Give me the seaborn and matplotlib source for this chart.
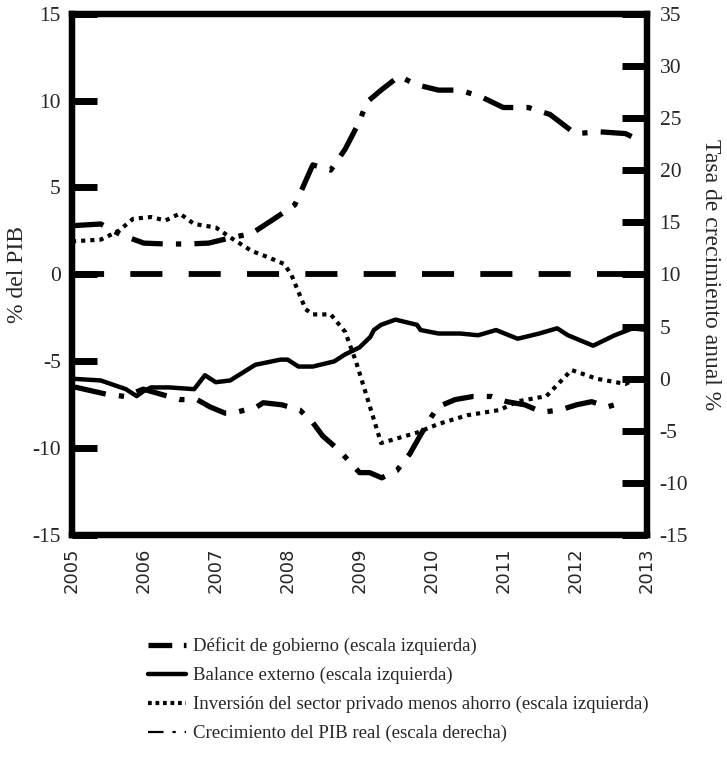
import numpy as np
import pandas as pd
import matplotlib
matplotlib.use('Agg')
import matplotlib.pyplot as plt
import seaborn as sns

# Datos (años en fracción)
deficit_x = [2005.0, 2005.4, 2005.67, 2006.0, 2006.3, 2006.6, 2006.9, 2007.2, 2007.5, 2007.85,
             2008.1, 2008.2, 2008.35, 2008.6, 2008.8, 2009.0, 2009.1, 2009.3, 2009.55, 2009.8,
             2010.1, 2010.4, 2010.7, 2011.0, 2011.35, 2011.65, 2012.0, 2012.35, 2012.7, 2012.9]
deficit_y = [2.8, 2.9, 2.3, 1.8, 1.75, 1.75, 1.8, 2.1, 2.35, 3.3,
             4.0, 4.9, 6.3, 6.0, 7.2, 8.8, 9.9, 10.6, 11.4, 10.9,
             10.6, 10.6, 10.2, 9.6, 9.6, 9.2, 8.1, 8.2, 8.1, 7.7]

balance_x = [2005.0, 2005.4, 2005.75, 2005.9, 2006.0, 2006.1, 2006.35, 2006.7, 2006.85, 2007.0,
             2007.2, 2007.55, 2007.9, 2008.0, 2008.15, 2008.35, 2008.65, 2008.8, 2009.0, 2009.15,
             2009.2, 2009.3, 2009.5, 2009.7, 2009.8, 2009.85, 2010.1, 2010.4, 2010.65, 2010.9,
             2011.2, 2011.5, 2011.75, 2011.9, 2012.25, 2012.55, 2012.8, 2013.0]
balance_y = [-6.0, -6.1, -6.6, -7.0, -6.7, -6.5, -6.5, -6.6, -5.8, -6.2,
             -6.1, -5.2, -4.9, -4.9, -5.3, -5.3, -5.0, -4.6, -4.2, -3.6,
             -3.2, -2.9, -2.6, -2.8, -2.9, -3.2, -3.4, -3.4, -3.5, -3.2,
             -3.7, -3.4, -3.1, -3.5, -4.1, -3.5, -3.1, -3.2]

inversion_x = [2005.0, 2005.4, 2005.65, 2005.85, 2006.1, 2006.3, 2006.5, 2006.7, 2007.0, 2007.25,
               2007.5, 2007.75, 2007.95, 2008.05, 2008.15, 2008.25, 2008.35, 2008.6, 2008.8, 2008.95,
               2009.1, 2009.3, 2009.55, 2009.8, 2010.1, 2010.5, 2010.95, 2011.2, 2011.6, 2011.95,
               2012.3, 2012.7, 2012.9]
inversion_y = [1.9, 2.0, 2.5, 3.2, 3.3, 3.1, 3.5, 2.9, 2.7, 2.0,
               1.35, 0.95, 0.6, 0.0, -1.0, -2.0, -2.3, -2.3, -3.3, -5.0,
               -7.0, -9.7, -9.4, -9.1, -8.6, -8.1, -7.8, -7.3, -7.0, -5.5,
               -6.0, -6.3, -5.9]

pib_x = [2005.04, 2005.49, 2005.74, 2005.99, 2006.5, 2006.74, 2006.92, 2007.13, 2007.24, 2007.57,
         2007.66, 2007.92, 2008.17, 2008.35, 2008.49, 2008.69, 2008.87, 2009.0, 2009.14, 2009.31,
         2009.52, 2009.7, 2009.84, 2009.95, 2010.09, 2010.33, 2010.58, 2010.84, 2011.05, 2011.3,
         2011.54, 2011.79, 2012.02, 2012.23, 2012.45, 2012.69]
pib_y = [-0.8, -1.5, -1.7, -1.0, -2.0, -2.0, -2.7, -3.3, -3.3, -2.7,
         -2.3, -2.5, -3.0, -4.2, -5.5, -6.7, -8.0, -9.0, -9.0, -9.5,
         -8.8, -7.2, -5.5, -4.2, -2.7, -2.0, -1.7, -1.7, -2.2, -2.5,
         -3.2, -3.0, -2.5, -2.2, -2.7, -2.2]

years = list(range(2005, 2014))
left_ticks = [-15, -10, -5, 0, 5, 10, 15]
right_ticks = [-15, -10, -5, 0, 5, 10, 15, 20, 25, 30, 35]

labels = ['Déficit de gobierno (escala izquierda)',
          'Balance externo (escala izquierda)',
          'Inversión del sector privado menos ahorro (escala izquierda)',
          'Crecimiento del PIB real (escala derecha)']

sns.set_style('white')
plt.rcParams['font.family'] = ['Liberation Serif', 'DejaVu Serif']

fig = plt.figure(figsize=(7.27, 7.57), dpi=100)
ax = fig.add_axes([0.099, 0.293, 0.791, 0.689])
ax2 = ax.twinx()

dashdot = (0, (6, 2.5, 1, 2.5))

sns.lineplot(x=deficit_x, y=deficit_y, ax=ax, color='black', lw=3.8,
             linestyle=dashdot, sort=False, estimator=None)
l_def = ax.lines[-1]
sns.lineplot(x=balance_x, y=balance_y, ax=ax, color='black', lw=3.2,
             linestyle='-', sort=False, estimator=None)
l_bal = ax.lines[-1]
sns.lineplot(x=inversion_x, y=inversion_y, ax=ax, color='black', lw=3.0,
             linestyle=(0, (1, 1.2)), sort=False, estimator=None)
l_inv = ax.lines[-1]
ax.axhline(0, color='black', lw=4.2, linestyle=(0, (5.5, 4.5)))

sns.lineplot(x=pib_x, y=pib_y, ax=ax2, color='black', lw=3.8,
             linestyle=dashdot, sort=False, estimator=None)
l_pib = ax2.lines[-1]

ax.set_xlim(2005, 2013)
ax.set_ylim(-15, 15)
ax2.set_ylim(-15, 35)

ax.set_xticks(years)
ax.set_xticklabels([str(y) for y in years], rotation=90, fontsize=13, family='DejaVu Sans')
ax.set_yticks(left_ticks)
ax.set_yticklabels([str(t) for t in left_ticks], fontsize=15.5)
ax2.set_yticks(right_ticks)
ax2.set_yticklabels([str(t) for t in right_ticks], fontsize=15.5)

ax.tick_params(axis='x', direction='in', length=16, width=5, color='black', pad=9)
ax.tick_params(axis='y', direction='in', length=18, width=5, color='black', pad=8)
ax2.tick_params(axis='y', direction='in', length=18, width=5, color='black', pad=9)
for a in (ax, ax2):
    for sp in a.spines.values():
        sp.set_linewidth(4.5)
        sp.set_color('black')

ax.set_ylabel('% del PIB', fontsize=17, labelpad=3)
ax2.set_ylabel('Tasa de crecimiento anual %', fontsize=17, rotation=-90, labelpad=24)
ax.set_xlabel('')

if ax.get_legend():
    ax.get_legend().remove()
if ax2.get_legend():
    ax2.get_legend().remove()

leg = fig.legend([l_def, l_bal, l_inv, l_pib], labels,
                 loc='upper left', bbox_to_anchor=(0.204, 0.158), frameon=False,
                 fontsize=13.5, handlelength=2.0, handletextpad=0.4, labelspacing=0.62,
                 borderpad=0, borderaxespad=0)
# muestras de la leyenda como en el original
hl = leg.get_lines()
hl[0].set_linestyle((0, (4.5, 2.2, 0.8, 2.2)))
hl[2].set_linestyle((0, (0.9, 0.9)))
hl[3].set_linewidth(1.6)
hl[3].set_linestyle((0, (7, 4, 1.5, 4)))

fig.savefig('out.png', dpi=100)
